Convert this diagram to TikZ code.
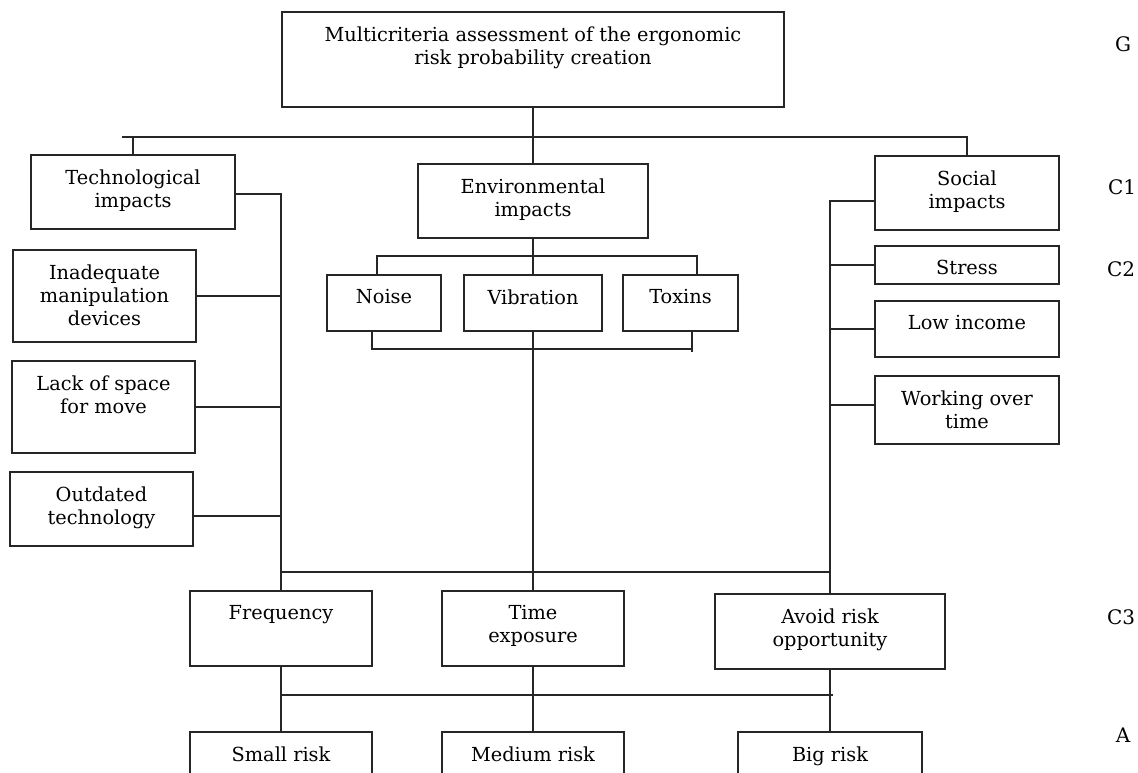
\documentclass[tikz,border=0pt]{standalone}
\usepackage{fontspec}
\setmainfont{DejaVu Serif}
\begin{document}
\begin{tikzpicture}[x=0.75pt,y=-0.75pt,
  line width=0.8pt,
  wire/.style={draw=black!85},
  box/.style={draw=black!85, rectangle, inner sep=0pt, outer sep=0pt},
  txt/.style={inner sep=0pt, align=center, font=\fontsize{14.5}{17.2}\selectfont, anchor=north},
  lvl/.style={inner sep=0pt, font=\fontsize{15}{17}\selectfont}]
\clip (0,0) rectangle (1138,773);
\fill[white] (0,0) rectangle (1138,773);

% box: name, x1, y1, x2, y2, text (text sits near the top edge)
\newcommand\drawbox[6]{%
  \node[box, minimum width={(#4-#2)*0.75pt}, minimum height={(#5-#3)*0.75pt}]
    (#1) at ({(#2+#4)/2},{(#3+#5)/2}) {};
  \node[txt] (#1-t) at ([yshift=-10.5pt]#1.north) {#6};}

% goal
\drawbox{g}{282}{12}{784}{107}{Multicriteria assessment of the ergonomic\\risk probability creation}
% criteria
\drawbox{tech}{31}{155}{235}{229}{Technological\\impacts}
\drawbox{env}{418}{164}{648}{238}{Environmental\\impacts}
\drawbox{soc}{875}{156}{1059}{230}{Social\\impacts}
% sub-criteria
\drawbox{inad}{13}{250}{196}{342}{Inadequate\\manipulation\\devices}
\drawbox{lack}{12}{361}{195}{453}{Lack of space\\for move}
\drawbox{outd}{10}{472}{193}{546}{Outdated\\technology}
\drawbox{noise}{327}{275}{441}{331}{Noise}
\drawbox{vib}{464}{275}{602}{331}{Vibration}
\drawbox{tox}{623}{275}{738}{331}{Toxins}
\drawbox{stress}{875}{246}{1059}{284}{Stress}
\drawbox{lowinc}{875}{301}{1059}{357}{Low income}
\drawbox{work}{875}{376}{1059}{444}{Working over\\time}
% third level
\drawbox{freq}{190}{591}{372}{666}{Frequency}
\drawbox{time}{442}{591}{624}{666}{Time\\exposure}
\drawbox{avoid}{715}{594}{945}{669}{Avoid risk\\opportunity}
% alternatives
\drawbox{small}{190}{732}{372}{800}{Small risk}
\drawbox{medium}{442}{732}{624}{800}{Medium risk}
\drawbox{big}{738}{732}{922}{800}{Big risk}

% level labels
\node[lvl] (lG) at (1123,44) {G};
\node[lvl] (lC1) at (1122,187) {C1};
\node[lvl] (lC2) at (1121,269) {C2};
\node[lvl] (lC3) at (1121,617) {C3};
\node[lvl] (lA) at (1123,735) {A};

% goal to criteria
\coordinate (busTL) at (122,137);
\coordinate (busTR) at (967,137);
\draw[wire] (g.south) -- (env.north);
\draw[wire] (busTL) -- (busTR) -- (soc.north);
\draw[wire] (busTL -| tech.north) -- (tech.north);

% technological branch
\draw[wire] ([yshift=-1.5pt]tech.east) -| (freq.north);
\draw[wire] (inad.east) -- (inad.east -| freq.north);
\draw[wire] (lack.east) -- (lack.east -| freq.north);
\draw[wire] ([yshift=-5.25pt]outd.east) -- ([yshift=-5.25pt]outd.east -| freq.north);

% social branch
\draw[wire] ([yshift=-6pt]soc.west) -| (avoid.north);
\draw[wire] (stress.west) -- (stress.west -| avoid.north);
\draw[wire] (lowinc.west) -- (lowinc.west -| avoid.north);
\draw[wire] ([yshift=3.75pt]work.west) -- ([yshift=3.75pt]work.west -| avoid.north);

% environmental branch
\coordinate (envTL) at (377,256);
\coordinate (envTR) at (697,256);
\coordinate (envBL) at (372,349);
\coordinate (envBR) at (692,349);
\draw[wire] (env.south) -- (vib.north);
\draw[wire] (noise.north -| envTL) -- (envTL) -- (envTR) -- (tox.north -| envTR);
\draw[wire] (noise.south -| envBL) -- (envBL) -- (envBR);
\draw[wire] (tox.south -| envBR) -- ([yshift=-2.25pt]envBR);
\draw[wire] (vib.south) -- (time.north);

% criteria bus to third level
\coordinate (busM) at (281,572);
\draw[wire] (freq.north |- busM) -- (avoid.north |- busM);

% third level to alternatives
\coordinate (busB) at (281,695);
\draw[wire] (freq.south) -- (freq.south |- small.north);
\draw[wire] (time.south) -- (time.south |- medium.north);
\draw[wire] (avoid.south) -- (avoid.south |- big.north);
\draw[wire] (freq.south |- busB) -- (833,695);
\end{tikzpicture}
\end{document}
